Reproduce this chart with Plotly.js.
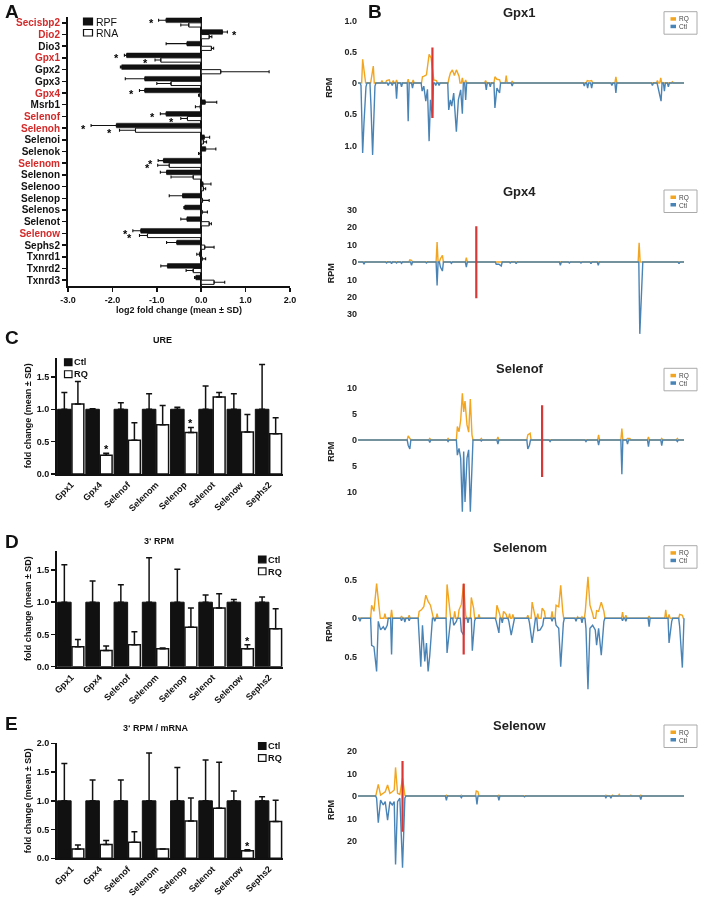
<!DOCTYPE html>
<html><head><meta charset="utf-8">
<script src="https://cdn.plot.ly/plotly-3.0.1.min.js"></script>
<style>html,body{margin:0;padding:0;background:#fff}#chart{width:713px;height:897px}.main-svg{will-change:transform}</style>
</head><body><div id="chart"></div>
<script>
// ================= DATA =================
// Panel A: log2 fold change (RQ vs Ctl), RPF and RNA
const genesA = ['Secisbp2','Dio2','Dio3','Gpx1','Gpx2','Gpx3','Gpx4','Msrb1','Selenof','Selenoh','Selenoi','Selenok','Selenom','Selenon','Selenoo','Selenop','Selenos','Selenot','Selenow','Sephs2','Txnrd1','Txnrd2','Txnrd3'];
const redGenesA = ['Secisbp2','Dio2','Gpx1','Gpx4','Selenof','Selenoh','Selenom','Selenow'];
const rpfMean = [-0.79, 0.48, -0.32, -1.68, -1.79, -1.27, -1.27, 0.09, -0.79, -1.91, 0.07, 0.10, -0.85, -0.78, 0.04, -0.42, -0.37, -0.32, -1.36, -0.55, -0.04, -0.76, -0.12];
const rpfSD   = [0.17, 0.11, 0.47, 0.05, 0.03, 0.44, 0.12, 0.26, 0.13, 0.57, 0.12, 0.23, 0.12, 0.14, 0.18, 0.30, 0.02, 0.14, 0.18, 0.23, 0.06, 0.15, 0.03];
const rnaMean = [-0.28, 0.18, 0.23, -0.91, 0.44, -0.68, -0.03, -0.02, -0.31, -1.48, 0.05, -0.02, -0.72, -0.18, 0.05, 0.03, 0.02, 0.18, -1.21, 0.08, 0.02, -0.18, 0.29];
const rnaSD   = [0.18, 0.06, 0.05, 0.13, 1.09, 0.32, 0.03, 0.11, 0.15, 0.36, 0.07, 0.04, 0.26, 0.50, 0.05, 0.15, 0.12, 0.05, 0.18, 0.21, 0.08, 0.16, 0.24];
const rpfSig  = [1,1,0,1,0,0,1,0,1,1,0,0,1,0,0,0,0,0,1,0,0,0,0];
const rnaSig  = [0,0,0,1,0,0,0,0,1,1,0,0,1,0,0,0,0,0,1,0,0,0,0];
const ticksA  = [-3,-2,-1,0,1,2];

// Panels C, D, E: fold change (mean ± SD)
const genesC = ['Gpx1','Gpx4','Selenof','Selenom','Selenop','Selenot','Selenow','Sephs2'];
const ureCtl   = [1,1,1,1,1,1,1,1];
const ureCtlSD = [0.26, 0.01, 0.10, 0.24, 0.03, 0.36, 0.24, 0.69];
const ureRQ    = [1.08, 0.29, 0.52, 0.76, 0.64, 1.19, 0.65, 0.62];
const ureRQSD  = [0.35, 0.03, 0.27, 0.30, 0.08, 0.07, 0.27, 0.25];
const ureSig   = [0,1,0,0,1,0,0,0];

const rpmCtl   = [1,1,1,1,1,1,1,1];
const rpmCtlSD = [0.58, 0.33, 0.27, 0.69, 0.51, 0.11, 0.04, 0.08];
const rpmRQ    = [0.31, 0.25, 0.34, 0.28, 0.61, 0.91, 0.28, 0.59];
const rpmRQSD  = [0.11, 0.07, 0.20, 0.01, 0.30, 0.22, 0.06, 0.31];
const rpmSig   = [0,0,0,0,0,0,1,0];

const normCtl   = [1,1,1,1,1,1,1,1];
const normCtlSD = [0.65, 0.36, 0.36, 0.83, 0.58, 0.71, 0.17, 0.07];
const normRQ    = [0.16, 0.24, 0.28, 0.16, 0.65, 0.87, 0.13, 0.64];
const normRQSD  = [0.07, 0.07, 0.18, 0.00, 0.40, 0.80, 0.02, 0.37];
const normSig   = [0,0,0,0,0,0,1,0];

// Panel B: RPM profiles along transcripts (peak position, height); RQ up, Ctl down
const trackStart = -6, trackEnd = 975;
const gpx1RqPos  = [8,14,35,40,66,80,88,100,110,145,160,188,193,200,208,214,222,230,268,272,278,284,290,298,308,318,378,406,412,420,440,458,684,690,697,770,895,905,940];
const gpx1RqVal  = [0.38,0.08,0.08,0.27,0.04,0.04,0.05,0.04,0.05,0.06,0.05,0.10,0.11,0.13,0.46,0.40,0.05,0.04,0.08,0.16,0.21,0.12,0.21,0.11,0.08,0.05,0.04,0.10,0.06,0.05,0.12,0.03,0.04,0.03,0.04,0.10,0.04,0.08,0.02];
const gpx1CtlPos = [3,8,12,18,33,38,45,85,97,110,125,145,158,187,192,198,203,208,212,218,228,238,267,272,276,282,290,296,303,308,318,380,392,406,412,420,458,675,685,697,758,770,880,897,906,916,928];
const gpx1CtlVal = [0.04,1.12,0.64,0.06,0.36,1.15,0.05,0.04,0.04,0.25,0.06,0.61,0.08,0.13,0.05,0.29,0.10,0.93,0.27,0.56,0.04,0.04,0.43,0.27,0.37,0.16,0.78,0.27,0.11,0.49,0.27,0.11,0.06,0.40,0.08,0.16,0.05,0.05,0.08,0.08,0.04,0.16,0.04,0.08,0.29,0.13,0.06];
const gpx1Sec = [218, 0.57, 0.56];

const gpx4RqPos  = [150,155,232,242,248,320,840];
const gpx4RqVal  = [1.3,1.0,11.5,1.9,3.8,2.5,11.0];
const gpx4CtlPos = [12,80,95,110,125,155,200,232,242,248,275,320,410,418,425,452,470,603,630,665,695,717,842,848,960];
const gpx4CtlVal = [1.3,0.6,1.0,0.6,0.8,1.9,0.6,13.5,2.9,5.2,0.8,2.9,1.3,1.3,2.3,0.6,1.0,1.9,0.6,0.6,1.0,1.9,41.3,4.8,1.0];
const gpx4Sec = [350, 20.6, 20.8];

const selenofRqPos  = [145,150,210,265,293,298,303,308,312,316,322,327,332,337,365,415,505,512,718,788,805,812,868,908,955];
const selenofRqVal  = [0.8,0.4,0.3,0.3,2.6,1.6,3.8,9.0,5.4,7.5,2.9,1.5,7.9,1.0,0.3,0.6,1.0,1.3,1.0,2.2,0.3,0.3,0.6,0.3,0.3];
const selenofCtlPos = [145,150,210,265,293,298,303,308,312,316,322,327,332,337,365,415,505,510,572,680,718,788,805,868,908,955];
const selenofCtlVal = [1.0,1.7,0.5,0.3,2.9,1.6,3.5,13.8,2.2,11.9,3.5,1.9,13.8,2.2,0.2,0.8,1.7,1.0,0.3,0.3,1.0,6.6,0.8,1.3,1.1,0.3];
const selenofSec = [548, 6.7, 7.1];

const selenomRqPos  = [35,42,50,58,75,95,125,148,178,185,192,198,205,212,218,232,262,270,285,298,305,312,318,335,342,358,412,420,432,440,450,460,505,518,525,535,548,555,578,590,598,604,610,655,668,678,686,692,700,712,718,726,734,790,800,870,920,930,962,970];
const selenomRqVal  = [0.17,0.09,0.45,0.06,0.06,0.11,0.03,0.04,0.09,0.11,0.15,0.30,0.22,0.17,0.04,0.06,0.44,0.05,0.09,0.11,0.18,0.45,0.04,0.27,0.13,0.05,0.17,0.06,0.09,0.05,0.06,0.05,0.04,0.21,0.09,0.06,0.13,0.09,0.09,0.17,0.15,0.43,0.09,0.02,0.02,0.09,0.54,0.17,0.06,0.10,0.09,0.21,0.09,0.08,0.04,0.03,0.11,0.05,0.05,0.04];
const selenomCtlPos = [0,35,42,50,55,62,70,75,82,95,125,135,148,178,183,188,195,200,205,210,215,225,262,270,282,290,305,312,325,338,345,410,418,428,448,455,462,510,518,525,535,542,550,578,590,598,604,612,650,668,680,686,692,700,708,712,718,726,734,790,800,870,930,938,962,970];
const selenomCtlVal = [0.04,0.35,0.37,0.69,0.04,0.15,0.11,0.15,0.09,0.47,0.03,0.05,0.03,0.26,0.63,0.09,0.56,0.32,0.69,0.48,0.09,0.04,0.45,0.09,0.09,0.04,0.17,0.22,0.06,0.42,0.03,0.04,0.19,0.06,0.04,0.22,0.04,0.06,0.32,0.09,0.16,0.15,0.09,0.04,0.09,0.13,0.63,0.06,0.04,0.06,0.13,0.92,0.13,0.09,0.15,0.35,0.13,0.48,0.04,0.03,0.04,0.11,0.32,0.04,0.11,0.64];
const selenomSec = [312, 0.45, 0.47];

const selenowRqPos  = [48,55,62,70,76,83,90,97,103,107,113,120,128,135,260,305,350,355,418,740,760,780,815,845];
const selenowRqVal  = [0.4,5.2,0.4,1.2,1.9,4.9,1.2,1.9,2.7,12.7,1.2,0.7,7.9,0.4,0.4,0.4,2.2,1.9,0.4,0.4,0.4,0.7,0.4,0.4];
const selenowCtlPos = [50,55,62,70,76,83,90,97,103,107,113,120,128,135,260,305,352,418,495,740,755,845];
const selenowCtlVal = [1.0,11.9,1.8,4.0,2.5,10.7,2.5,4.0,2.5,30.4,2.5,1.0,31.9,1.0,1.9,0.7,3.7,1.9,0.4,0.7,1.0,1.6];
const selenowSec = [128, 15.6, 15.9];

// ================= HELPERS / STYLE =================
const W = 713, H = 897;
const FONT = 'Liberation Sans, Arial, sans-serif';
const INK = '#111111';
const C_RQ = '#f2a520', C_CTL = '#4a84b6', C_SEC = '#d93636', C_RED = '#d42a2a';
const px = x => x / W, py = y => 1 - y / H;
const domX = (a, b) => [a / W, b / W];
const domY = (top, bot) => [1 - bot / H, 1 - top / H];
const tf = (size, weight = 700, color = INK) => ({family: FONT, size, weight, color});

const traces = [];
const annotations = [];
const shapes = [];
const layout = {
  width: W, height: H, margin: {l: 0, r: 0, t: 0, b: 0},
  paper_bgcolor: '#fff', plot_bgcolor: 'rgba(0,0,0,0)',
  showlegend: false, font: tf(10), barmode: 'group'
};

function txt(x, y, text, font, opts = {}) {
  annotations.push(Object.assign({xref: 'paper', yref: 'paper', x: px(x), y: py(y), text, font, showarrow: false, xanchor: 'center', yanchor: 'middle'}, opts));
}
function legendSquare(x0, y0, x1, y1, fill, line) {
  shapes.push({type: 'rect', xref: 'paper', yref: 'paper', x0: px(x0), x1: px(x1), y0: py(y1), y1: py(y0), fillcolor: fill, line: {color: line, width: line === 'rgba(0,0,0,0)' ? 0 : 1.2}});
}
const STAR = tf(11, 700, '#000000');

// ================= PANEL A =================
const idxA = genesA.map((_, i) => i);
const sideErr = (m, sd) => ({plus: m.map((v, i) => v >= 0 ? sd[i] : 0), minus: m.map((v, i) => v < 0 ? sd[i] : 0)});
const eRPF = sideErr(rpfMean, rpfSD), eRNA = sideErr(rnaMean, rnaSD);
traces.push({type: 'bar', orientation: 'h', x: rpfMean, y: idxA, xaxis: 'x', yaxis: 'y', offset: -0.42, width: 0.40,
  marker: {color: INK, line: {color: INK, width: 0.5}},
  error_x: {type: 'data', symmetric: false, array: eRPF.plus, arrayminus: eRPF.minus, color: INK, thickness: 1.1, width: 1.5}, hoverinfo: 'skip'});
traces.push({type: 'bar', orientation: 'h', x: rnaMean, y: idxA, xaxis: 'x', yaxis: 'y', offset: 0.0, width: 0.36,
  marker: {color: '#ffffff', line: {color: INK, width: 1}},
  error_x: {type: 'data', symmetric: false, array: eRNA.plus, arrayminus: eRNA.minus, color: INK, thickness: 1.1, width: 1.5}, hoverinfo: 'skip'});
layout.xaxis = {domain: domX(68, 290), anchor: 'y', range: [-3, 2], tickvals: ticksA, ticktext: ticksA.map(v => v.toFixed(1)),
  showline: true, linecolor: INK, linewidth: 2, ticks: 'outside', ticklen: 4, tickwidth: 1.5, tickcolor: INK,
  tickfont: tf(9), showgrid: false, zeroline: true, zerolinecolor: INK, zerolinewidth: 2,
  title: {text: 'log2 fold change (mean ± SD)', font: tf(9), standoff: 3}};
layout.yaxis = {domain: domY(17, 286), anchor: 'x', range: [22.5, -0.5], tickvals: idxA,
  ticktext: genesA.map(g => redGenesA.includes(g) ? '<span style="color:' + C_RED + '">' + g + '</span>' : g),
  showline: true, linecolor: INK, linewidth: 2, ticks: 'outside', ticklen: 4, tickwidth: 1.5, tickcolor: INK,
  tickfont: tf(10), showgrid: false, zeroline: false};
genesA.forEach((g, i) => {
  if (rpfSig[i]) {
    const m = rpfMean[i], e = m >= 0 ? m + rpfSD[i] + 0.17 : m - rpfSD[i] - 0.17;
    annotations.push({xref: 'x', yref: 'y', x: e, y: i - 0.21, text: '*', showarrow: false, font: STAR, yshift: -3, borderpad: 0});
  }
  if (rnaSig[i]) {
    const m = rnaMean[i], e = m >= 0 ? m + rnaSD[i] + 0.17 : m - rnaSD[i] - 0.17;
    annotations.push({xref: 'x', yref: 'y', x: e - 0.05, y: i + 0.18, text: '*', showarrow: false, font: STAR, yshift: -3, borderpad: 0});
  }
});
legendSquare(83.5, 18, 92.5, 25, INK, INK);
legendSquare(83.5, 29.5, 92.5, 36, '#ffffff', INK);
txt(95, 21.5, 'RPF', tf(10.5, 400), {xanchor: 'left', borderpad: 0});
txt(95, 33, 'RNA', tf(10.5, 400), {xanchor: 'left', borderpad: 0});

// ================= PANELS C, D, E =================
const idxC = genesC.map((_, i) => i);
const zerosC = idxC.map(() => 0);
function barPanel(n, ctl, ctlSD, rq, rqSD, sig, top, bottom, ymax, tickv) {
  const xa = 'x' + n, ya = 'y' + n;
  traces.push({type: 'bar', x: idxC, y: ctl, xaxis: xa, yaxis: ya, offset: -0.48, width: 0.48,
    marker: {color: INK, line: {color: INK, width: 1}},
    error_y: {type: 'data', symmetric: false, array: ctlSD, arrayminus: zerosC, color: INK, thickness: 1.5, width: 3}, hoverinfo: 'skip'});
  traces.push({type: 'bar', x: idxC, y: rq, xaxis: xa, yaxis: ya, offset: 0.03, width: 0.42,
    marker: {color: '#ffffff', line: {color: INK, width: 1.5}},
    error_y: {type: 'data', symmetric: false, array: rqSD, arrayminus: zerosC, color: INK, thickness: 1.5, width: 3}, hoverinfo: 'skip'});
  layout['xaxis' + n] = {domain: domX(57, 283), anchor: ya, range: [-0.5, 7.5], tickvals: idxC, ticktext: genesC, tickangle: -45,
    showline: true, linecolor: INK, linewidth: 2, ticks: '', tickfont: tf(9), showgrid: false, zeroline: false};
  layout['yaxis' + n] = {domain: domY(top, bottom), anchor: xa, range: [0, ymax], tickvals: tickv, ticktext: tickv.map(v => v.toFixed(1)),
    showline: true, linecolor: INK, linewidth: 2, ticks: 'outside', ticklen: 4, tickwidth: 1.5, tickcolor: INK,
    tickfont: tf(9), showgrid: false, zeroline: false,
    title: {text: 'fold change (mean ± SD)', font: tf(9), standoff: 4}};
  idxC.forEach(i => {
    if (sig[i]) annotations.push({xref: xa, yref: ya, x: i + 0.24, y: rq[i] + rqSD[i], text: '*', showarrow: false, font: STAR, yanchor: 'bottom', yshift: -3, borderpad: 0});
  });
}
barPanel(2, ureCtl, ureCtlSD, ureRQ, ureRQSD, ureSig, 357.5, 474, 1.8, [0, 0.5, 1, 1.5]);
barPanel(3, rpmCtl, rpmCtlSD, rpmRQ, rpmRQSD, rpmSig, 550.6, 666.7, 1.8, [0, 0.5, 1, 1.5]);
barPanel(4, normCtl, normCtlSD, normRQ, normRQSD, normSig, 743.3, 858.3, 2.0, [0, 0.5, 1, 1.5, 2]);
txt(162, 340, 'URE', tf(9));
txt(159, 541, '3‘ RPM', tf(9));
txt(156, 728, '3‘ RPM / mRNA', tf(9));
// legends C/D/E (one two-line text; squares follow the text rows)
const LEG_FS = 9.2, LEG_LH = LEG_FS * 1.3;
function ctlRqLegend(xs, yTop) {
  legendSquare(xs, yTop, xs + 7.5, yTop + 6.8, INK, INK);
  legendSquare(xs, yTop + LEG_LH, xs + 7.5, yTop + LEG_LH + 6.8, '#ffffff', INK);
  txt(xs + 8.5, yTop + 3.6 + LEG_LH / 2, 'Ctl<br>RQ', tf(LEG_FS), {xanchor: 'left', align: 'left', borderpad: 0});
}
ctlRqLegend(64.5, 358.8);
ctlRqLegend(258.5, 556);
ctlRqLegend(258.5, 742.6);

// ================= PANEL B =================
function spikeXY(pos, val, sign) {
  const xs = [trackStart], ys = [0];
  for (let i = 0; i < pos.length; i++) {
    const p = pos[i];
    const prev = i > 0 ? pos[i - 1] : -1e9, next = i < pos.length - 1 ? pos[i + 1] : 1e9;
    if (p - prev > 9 && p - 3 > trackStart) { xs.push(p - 3); ys.push(0); }
    xs.push(p); ys.push(sign * val[i]);
    if (next - p > 9) { xs.push(p + 3); ys.push(0); }
  }
  xs.push(trackEnd); ys.push(0);
  return {xs, ys};
}
const profiles = [
  {name: 'Gpx1', rqP: gpx1RqPos, rqV: gpx1RqVal, ctP: gpx1CtlPos, ctV: gpx1CtlVal, sec: gpx1Sec,
   base: 83, k: 62.5, lo: -1.25, hi: 1.1, tv: [-1, -0.5, 0, 0.5, 1], tt: ['1.0', '0.5', '0', '0.5', '1.0'], titleY: 13, legY: 11.7},
  {name: 'Gpx4', rqP: gpx4RqPos, rqV: gpx4RqVal, ctP: gpx4CtlPos, ctV: gpx4CtlVal, sec: gpx4Sec,
   base: 262, k: 1.74, lo: -44, hi: 31, tv: [-30, -20, -10, 0, 10, 20, 30], tt: ['30', '20', '10', '0', '10', '20', '30'], titleY: 191, legY: 190},
  {name: 'Selenof', rqP: selenofRqPos, rqV: selenofRqVal, ctP: selenofCtlPos, ctV: selenofCtlVal, sec: selenofSec,
   base: 440, k: 5.2, lo: -15, hi: 10.5, tv: [-10, -5, 0, 5, 10], tt: ['10', '5', '0', '5', '10'], titleY: 369, legY: 368.3},
  {name: 'Selenom', rqP: selenomRqPos, rqV: selenomRqVal, ctP: selenomCtlPos, ctV: selenomCtlVal, sec: selenomSec,
   base: 618.3, k: 77, lo: -0.95, hi: 0.6, tv: [-0.5, 0, 0.5], tt: ['0.5', '0', '0.5'], titleY: 547.5, legY: 545.7},
  {name: 'Selenow', rqP: selenowRqPos, rqV: selenowRqVal, ctP: selenowCtlPos, ctV: selenowCtlVal, sec: selenowSec,
   base: 796, k: 2.25, lo: -33, hi: 20.5, tv: [-20, -10, 0, 10, 20], tt: ['20', '10', '0', '10', '20'], titleY: 725, legY: 725}
];
profiles.forEach((p, j) => {
  const n = 5 + j, xa = 'x' + n, ya = 'y' + n;
  const rq = spikeXY(p.rqP, p.rqV, 1), ct = spikeXY(p.ctP, p.ctV, -1);
  traces.push({type: 'scatter', mode: 'lines', x: rq.xs, y: rq.ys, xaxis: xa, yaxis: ya, line: {color: C_RQ, width: 1.4}, hoverinfo: 'skip', name: 'RQ'});
  traces.push({type: 'scatter', mode: 'lines', x: ct.xs, y: ct.ys, xaxis: xa, yaxis: ya, line: {color: C_CTL, width: 1.4}, hoverinfo: 'skip', name: 'Ctl'});
  traces.push({type: 'scatter', mode: 'lines', x: [p.sec[0], p.sec[0]], y: [p.sec[1], -p.sec[2]], xaxis: xa, yaxis: ya, line: {color: C_SEC, width: 2.2}, hoverinfo: 'skip'});
  layout['xaxis' + n] = {domain: domX(358, 685), anchor: ya, range: [trackStart, trackEnd + 3], visible: false, showgrid: false, zeroline: false};
  layout['yaxis' + n] = {domain: domY(p.base - p.hi * p.k, p.base - p.lo * p.k), anchor: xa, range: [p.lo, p.hi],
    tickvals: p.tv, ticktext: p.tt, ticks: '', showline: false, showgrid: false, zeroline: false,
    tickfont: tf(9, 700, '#222'), title: {text: 'RPM', font: tf(9, 700, '#222'), standoff: 10}};
  txt(519.5, p.titleY, p.name, tf(13, 700, '#222'));
  // legend box
  shapes.push({type: 'rect', xref: 'paper', yref: 'paper', x0: px(664), x1: px(697), y0: py(p.legY + 22.5), y1: py(p.legY), fillcolor: '#fff', line: {color: '#aaaaaa', width: 1}});
  legendSquare(670.5, p.legY + 5.5, 676, p.legY + 9, C_RQ, 'rgba(0,0,0,0)');
  legendSquare(670.5, p.legY + 13, 676, p.legY + 16.5, C_CTL, 'rgba(0,0,0,0)');
  txt(677.5, p.legY + 11.2, 'RQ<br>Ctl', tf(6.5, 400, '#444'), {xanchor: 'left', align: 'left', borderpad: 0});
});

// ================= PANEL LETTERS =================
txt(3, 11, 'A', tf(19), {xanchor: 'left'});
txt(366, 11, 'B', tf(19), {xanchor: 'left'});
txt(3, 337, 'C', tf(19), {xanchor: 'left'});
txt(3, 541, 'D', tf(19), {xanchor: 'left'});
txt(3, 723, 'E', tf(19), {xanchor: 'left'});

layout.annotations = annotations;
layout.shapes = shapes;
Plotly.newPlot('chart', traces, layout, {staticPlot: true, displayModeBar: false});
</script>
</body></html>
